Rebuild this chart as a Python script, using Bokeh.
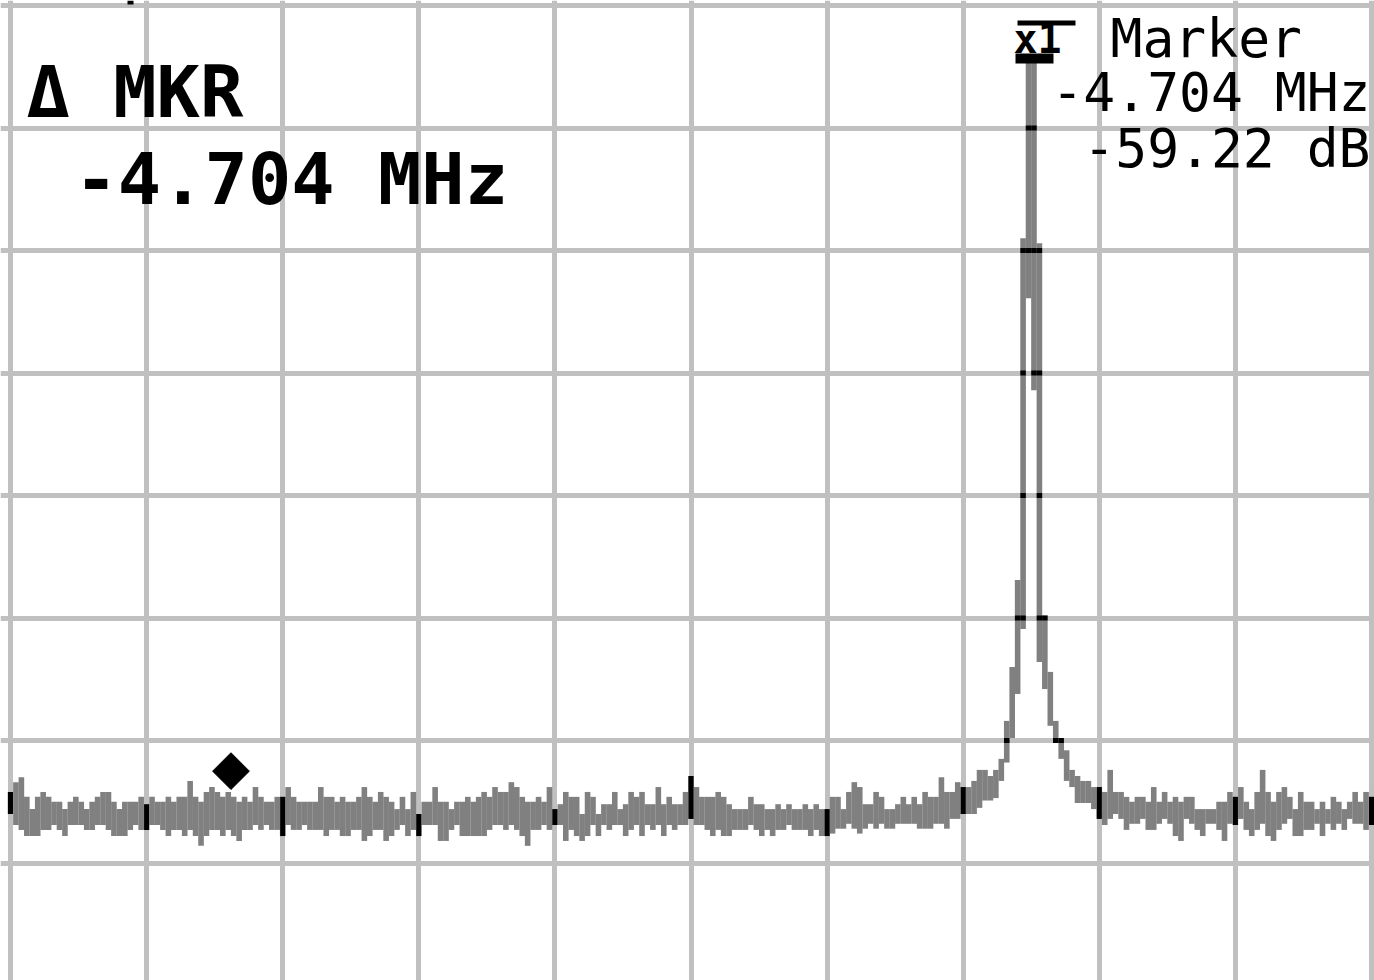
import numpy as np
from bokeh.plotting import figure
from bokeh.models import Range1d, FixedTicker, Label, ColumnDataSource
from bokeh.embed import file_html
from bokeh.resources import INLINE

# ---- data (spectrum analyzer trace, per display column: max / min level in dB) ----
start_mhz, stop_mhz, n_bins = -4.0, 4.0, 251   # 0.8 MHz/div, 10 divisions
ref_db, db_per_div = 0.0, 10.0

trace_hi = [
    -64.2, -63.4, -63.0, -64.6, -65.6, -64.6, -64.2, -64.6, -65.0, -65.0,
    -65.6, -65.0, -64.6, -65.0, -65.6, -65.0, -64.6, -64.2, -64.2, -65.0,
    -65.6, -65.0, -65.0, -65.0, -64.6, -65.2, -64.6, -65.0, -65.0, -64.6,
    -65.0, -64.6, -64.6, -63.3, -64.6, -65.0, -64.2, -63.8, -64.2, -64.6,
    -64.2, -64.6, -65.0, -64.6, -65.0, -63.8, -64.6, -65.0, -65.0, -64.6,
    -64.6, -63.8, -64.6, -65.0, -65.0, -65.0, -65.0, -63.8, -64.6, -64.6,
    -65.0, -64.6, -65.0, -65.0, -64.6, -63.8, -64.6, -65.0, -64.2, -64.6,
    -65.0, -65.6, -64.6, -65.6, -64.2, -66.0, -65.0, -65.0, -63.8, -65.0,
    -65.0, -65.6, -65.0, -65.0, -64.6, -65.0, -64.6, -64.2, -64.6, -63.8,
    -64.2, -64.2, -63.4, -63.8, -64.6, -65.0, -65.0, -64.6, -65.0, -63.8,
    -65.6, -65.2, -64.2, -64.6, -64.6, -66.0, -64.2, -64.6, -66.0, -65.2,
    -65.2, -64.2, -65.6, -65.2, -64.2, -64.6, -64.2, -65.2, -65.2, -63.8,
    -65.2, -64.6, -65.2, -65.2, -64.2, -62.9, -63.8, -64.6, -64.6, -64.6,
    -64.2, -64.6, -65.2, -65.6, -65.6, -65.6, -64.6, -65.2, -65.2, -65.6,
    -65.6, -65.2, -65.6, -65.2, -65.6, -65.6, -65.2, -65.6, -65.2, -65.6,
    -65.6, -64.6, -64.6, -65.6, -64.2, -63.4, -63.8, -65.2, -65.2, -64.2,
    -64.6, -65.6, -65.6, -65.2, -64.6, -65.2, -64.6, -65.2, -64.2, -64.6,
    -64.6, -63.0, -64.2, -64.2, -63.4, -63.8, -63.8, -63.3, -62.4, -62.4,
    -62.9, -62.4, -61.5, -58.4, -54.0, -46.9, -19.0, -4.7, -4.7, -19.4,
    -49.8, -54.4, -58.4, -60.0, -60.8, -62.4, -62.9, -63.3, -63.3, -63.8,
    -63.8, -64.2, -62.4, -64.2, -64.2, -64.6, -65.0, -64.6, -64.6, -65.0,
    -63.8, -65.0, -64.2, -65.0, -64.6, -65.0, -64.6, -64.6, -65.6, -65.6,
    -65.6, -65.6, -65.0, -65.0, -64.2, -64.6, -63.8, -65.0, -65.6, -64.2,
    -62.4, -64.2, -65.0, -64.2, -63.8, -64.6, -65.6, -64.2, -65.0, -65.0,
    -65.6, -65.0, -65.6, -64.6, -65.0, -65.6, -65.0, -64.2, -65.0, -64.2,
    -64.6,
]
trace_lo = [
    -66.0, -66.9, -67.3, -67.8, -67.8, -67.8, -67.3, -67.3, -66.9, -67.3,
    -67.8, -66.9, -66.9, -66.9, -67.3, -67.3, -66.9, -66.9, -67.3, -67.8,
    -67.8, -67.8, -67.3, -66.9, -67.3, -67.3, -66.9, -66.9, -67.3, -67.8,
    -67.3, -67.3, -67.8, -67.3, -67.8, -68.6, -67.8, -67.3, -67.3, -67.8,
    -67.3, -67.8, -68.2, -67.3, -67.3, -66.9, -67.3, -66.9, -67.3, -67.3,
    -67.8, -66.9, -67.3, -67.3, -66.9, -67.3, -67.3, -67.3, -67.8, -67.3,
    -67.3, -67.8, -67.8, -67.3, -67.3, -68.2, -67.8, -67.3, -67.3, -68.2,
    -67.8, -67.3, -66.9, -67.8, -67.3, -67.8, -66.9, -66.9, -66.9, -68.2,
    -68.2, -67.3, -66.9, -67.8, -67.8, -67.8, -67.8, -67.8, -67.3, -66.9,
    -66.9, -67.3, -66.9, -67.3, -67.8, -68.6, -67.3, -67.3, -66.9, -67.3,
    -66.9, -66.9, -68.2, -67.3, -67.8, -68.2, -67.8, -66.9, -67.8, -66.9,
    -67.3, -66.9, -66.9, -67.8, -67.3, -66.9, -67.8, -66.9, -67.3, -66.9,
    -67.8, -66.9, -67.3, -66.9, -66.9, -66.4, -66.9, -66.9, -67.3, -67.8,
    -67.3, -67.8, -67.8, -67.3, -67.3, -67.3, -66.9, -67.3, -67.8, -67.3,
    -67.8, -67.3, -67.3, -66.9, -67.3, -67.3, -67.3, -67.8, -67.3, -67.8,
    -67.8, -67.6, -67.2, -67.2, -66.8, -67.2, -67.6, -67.2, -66.8, -67.2,
    -66.8, -67.2, -67.2, -66.8, -66.8, -66.8, -66.8, -67.2, -67.2, -67.2,
    -66.8, -66.8, -67.2, -66.4, -66.4, -66.0, -66.0, -66.0, -65.5, -64.9,
    -64.9, -64.7, -63.3, -61.8, -59.8, -56.2, -50.9, -23.9, -31.4, -53.6,
    -55.8, -58.8, -60.2, -61.5, -63.3, -63.8, -65.1, -65.1, -65.1, -65.6,
    -66.4, -66.9, -66.4, -66.0, -66.4, -67.3, -66.8, -66.8, -66.4, -67.3,
    -67.3, -66.8, -66.4, -66.8, -67.8, -68.2, -66.4, -66.8, -67.3, -67.8,
    -66.8, -66.8, -67.3, -68.2, -66.8, -66.9, -66.4, -67.3, -67.8, -67.3,
    -66.8, -67.8, -68.2, -67.3, -66.8, -66.4, -67.8, -67.8, -67.3, -67.3,
    -66.8, -67.8, -66.8, -67.3, -66.8, -67.3, -66.4, -66.8, -66.8, -67.3,
    -66.9,
]

peak_mhz = 2.0
delta_mhz = -4.704
delta_db = -59.22
marker_level_db = -62.5

# ---- geometry of the screen (pixel -> data) ----
W, H = 1374, 980
px_per_div_x = 136.1
px_per_div_y = 122.5
x0_px, y0_px = 10.0, 5.0  # pixel of left edge (start freq) / top (reference level)
mhz_per_div = (stop_mhz - start_mhz) / 10.0


def sx(px):
    return start_mhz + mhz_per_div * (px - x0_px) / px_per_div_x


def sy(py):
    return ref_db - db_per_div * (py - y0_px) / px_per_div_y


def base(py, size):
    # rendered glyph baseline sits ~0.375 em below the anchor
    return sy(py - 0.375 * size)


freqs = np.linspace(start_mhz, stop_mhz, n_bins)
col_w = (stop_mhz - start_mhz) / (n_bins - 1)

p = figure(width=W, height=H, output_backend="svg", toolbar_location=None,
           x_range=Range1d(sx(0), sx(W)), y_range=Range1d(sy(H), sy(0)),
           min_border=0, min_border_left=0, min_border_right=0,
           min_border_top=0, min_border_bottom=0)
p.xaxis.visible = False
p.yaxis.visible = False
p.outline_line_color = None
p.background_fill_color = "white"
p.border_fill_color = "white"

grid_col = "#c0c0c0"
p.xgrid.ticker = FixedTicker(ticks=[start_mhz + k * mhz_per_div for k in range(11)])
p.ygrid.ticker = FixedTicker(ticks=[ref_db - k * db_per_div for k in range(9)])
for g in (p.xgrid, p.ygrid):
    g.grid_line_color = grid_col
    g.grid_line_width = 5

src = ColumnDataSource(dict(x=freqs, top=trace_hi, bottom=trace_lo))
p.vbar(x="x", top="top", bottom="bottom", width=col_w * 1.03, source=src,
       fill_color="#808080", line_color=None)

# black where trace overlaps grid lines
gl_w_x = mhz_per_div * 5 / px_per_div_x
gl_h_y = db_per_div * 5 / px_per_div_y
vx, vt, vb = [], [], []
for i in range(0, n_bins, 25):
    vx.append(freqs[i]); vt.append(trace_hi[i]); vb.append(trace_lo[i])
p.vbar(x=vx, top=vt, bottom=vb, width=gl_w_x, fill_color="black", line_color=None)
hx, hy = [], []
for k in range(1, 8):
    g = ref_db - k * db_per_div
    for i in range(n_bins):
        if trace_lo[i] <= g <= trace_hi[i]:
            hx.append(freqs[i]); hy.append(g)
p.rect(x=hx, y=hy, width=col_w, height=gl_h_y, fill_color="black", line_color=None)

# delta marker (diamond) on the noise floor
marker_mhz = peak_mhz + delta_mhz
p.scatter(x=[marker_mhz], y=[marker_level_db], marker="square", size=26,
          angle=np.pi / 4, fill_color="black", line_color="black")

# reference marker flag above the peak
p.quad(left=[sx(1017)], right=[sx(1075)], top=[sy(20)], bottom=[sy(25)],
       fill_color="black", line_color=None)
p.quad(left=[sx(1015)], right=[sx(1053)], top=[sy(53)], bottom=[sy(63)],
       fill_color="black", line_color=None)
p.add_layout(Label(x=sx(1013), y=base(53, 40), text="x1", text_font="DejaVu Sans Mono",
                   text_font_style="bold", text_font_size="40px",
                   text_color="black", text_baseline="alphabetic"))

# clipped glyph fragment at the very top edge
p.quad(left=[sx(127)], right=[sx(133)], top=[sy(0)], bottom=[sy(4)],
       fill_color="black", line_color=None)

mono = "DejaVu Sans Mono"
p.add_layout(Label(x=sx(26), y=base(118, 72), text="Δ MKR", text_font=mono,
                   text_font_style="bold", text_font_size="72px",
                   text_color="black", text_baseline="alphabetic"))
p.add_layout(Label(x=sx(74), y=base(205, 72), text=f"{delta_mhz:.3f} MHz", text_font=mono,
                   text_font_style="bold", text_font_size="72px",
                   text_color="black", text_baseline="alphabetic"))
p.add_layout(Label(x=sx(1110), y=base(58, 53), text="Marker", text_font=mono,
                   text_font_size="53px", text_color="black",
                   text_baseline="alphabetic"))
p.add_layout(Label(x=sx(1370), y=base(112, 53), text=f"{delta_mhz:.3f} MHz", text_font=mono,
                   text_font_size="53px", text_color="black",
                   text_baseline="alphabetic", text_align="right"))
p.add_layout(Label(x=sx(1370), y=base(168, 53), text=f"{delta_db:.2f} dB", text_font=mono,
                   text_font_size="53px", text_color="black",
                   text_baseline="alphabetic", text_align="right"))

open("out.html", "w").write(file_html(p, INLINE))
